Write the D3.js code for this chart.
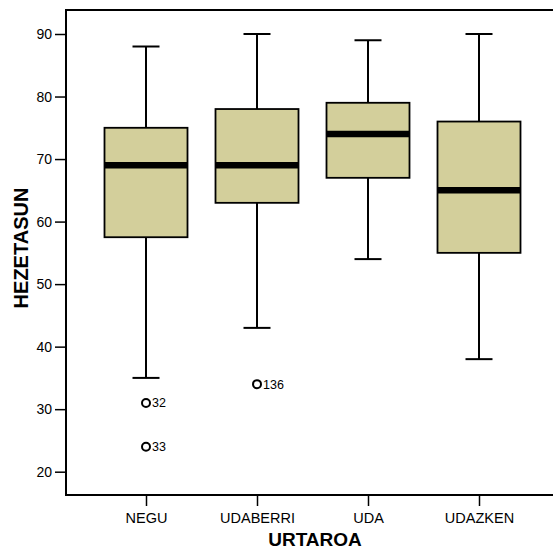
<!DOCTYPE html>
<html><head><meta charset="utf-8">
<script src="https://cdn.jsdelivr.net/npm/d3@7"></script>
<style>body{margin:0;background:#fff}svg{display:block;font-family:Arial,"Liberation Sans",sans-serif}</style>
</head><body>
<svg id="c" width="554" height="551"></svg>
<script>
const categories = ["NEGU","UDABERRI","UDA","UDAZKEN"];
const whiskerLow  = [35, 43, 54, 38];
const q1          = [57.5, 63, 67, 55];
const median      = [69, 69, 74, 65];
const q3          = [75, 78, 79, 76];
const whiskerHigh = [88, 90, 89, 90];
const outliers = [
  {cat:"NEGU", value:31, label:"32"},
  {cat:"NEGU", value:24, label:"33"},
  {cat:"UDABERRI", value:34, label:"136"}
];
const yTicks = [20,30,40,50,60,70,80,90];

const svg = d3.select("#c");
const L = 66, R = 553, T = 10, B = 495;
const y = d3.scaleLinear().domain([20, 90]).range([471.7, 34]);
const x = d3.scalePoint().domain(categories).range([146, 479]);
const boxW = 83, capW = 27;
const FF = "Arial,'Liberation Sans',sans-serif";

// frame
svg.append("path").attr("d", `M${R},${T}H${L}V${B}H${R}`).attr("fill","none").attr("stroke","#000").attr("stroke-width",2);

// y axis
const ya = svg.append("g").attr("transform",`translate(${L},0)`)
  .call(d3.axisLeft(y).tickValues(yTicks).tickSize(11).tickPadding(3));
ya.select(".domain").remove();
ya.selectAll("line").attr("stroke","#000").attr("stroke-width",1.5);
ya.selectAll("text").attr("font-size",14).attr("fill","#000").attr("font-family",FF);

// x axis
const xa = svg.append("g").attr("transform",`translate(0,${B})`)
  .call(d3.axisBottom(x).tickSize(11).tickPadding(7));
xa.select(".domain").remove();
xa.selectAll("line").attr("stroke","#000").attr("stroke-width",1.5);
xa.selectAll("text").attr("font-size",14.5).attr("fill","#000").attr("font-family",FF);

// boxes
const data = categories.map((c,i)=>({c, lo:whiskerLow[i], q1:q1[i], med:median[i], q3:q3[i], hi:whiskerHigh[i]}));
const g = svg.append("g").selectAll("g").data(data).join("g");
g.append("line").attr("x1",d=>x(d.c)).attr("x2",d=>x(d.c)).attr("y1",d=>y(d.hi)).attr("y2",d=>y(d.q3)).attr("stroke","#000").attr("stroke-width",2);
g.append("line").attr("x1",d=>x(d.c)).attr("x2",d=>x(d.c)).attr("y1",d=>y(d.q1)).attr("y2",d=>y(d.lo)).attr("stroke","#000").attr("stroke-width",2);
g.append("line").attr("x1",d=>x(d.c)-capW/2).attr("x2",d=>x(d.c)+capW/2).attr("y1",d=>y(d.hi)).attr("y2",d=>y(d.hi)).attr("stroke","#000").attr("stroke-width",2);
g.append("line").attr("x1",d=>x(d.c)-capW/2).attr("x2",d=>x(d.c)+capW/2).attr("y1",d=>y(d.lo)).attr("y2",d=>y(d.lo)).attr("stroke","#000").attr("stroke-width",2);
g.append("rect").attr("x",d=>x(d.c)-boxW/2).attr("width",boxW).attr("y",d=>y(d.q3)).attr("height",d=>y(d.q1)-y(d.q3))
  .attr("fill","#d3cf9b").attr("stroke","#000").attr("stroke-width",1.8);
g.append("line").attr("x1",d=>x(d.c)-boxW/2).attr("x2",d=>x(d.c)+boxW/2).attr("y1",d=>y(d.med)).attr("y2",d=>y(d.med)).attr("stroke","#000").attr("stroke-width",6.5);

// outliers
const o = svg.append("g").selectAll("g").data(outliers).join("g");
o.append("circle").attr("cx",d=>x(d.cat)).attr("cy",d=>y(d.value)).attr("r",4).attr("fill","none").attr("stroke","#000").attr("stroke-width",2);
o.append("text").attr("x",d=>x(d.cat)+6).attr("y",d=>y(d.value)+4.5).attr("font-size",12.5).attr("font-family",FF).text(d=>d.label);

// axis titles
svg.append("text").attr("x",315).attr("y",546).attr("text-anchor","middle").attr("font-weight","bold").attr("font-size",19).attr("font-family",FF).text("URTAROA");
svg.append("text").attr("transform","translate(28,248) rotate(-90)").attr("text-anchor","middle").attr("font-weight","bold").attr("font-size",20).attr("font-family",FF).text("HEZETASUN");
</script>
</body></html>
